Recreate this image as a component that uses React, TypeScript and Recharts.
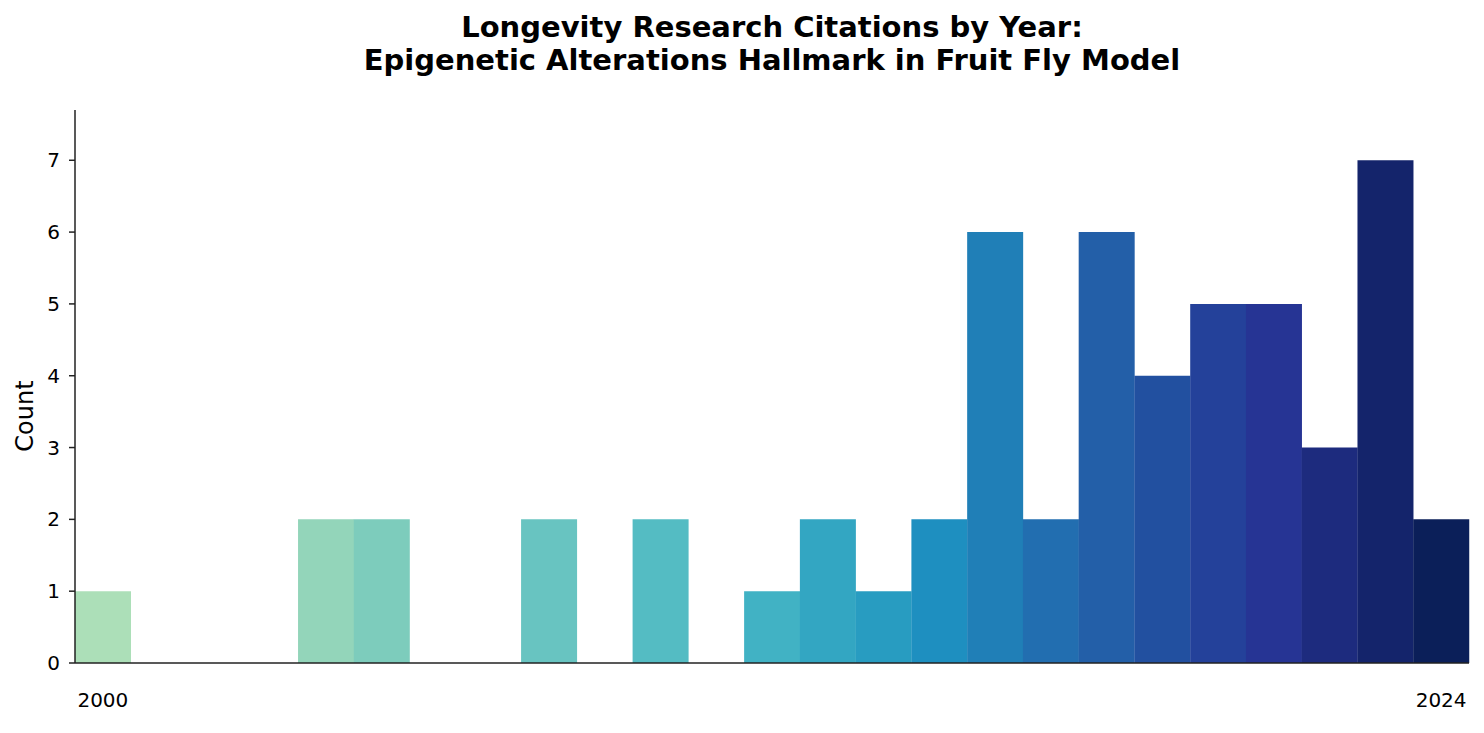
import { Bar, BarChart, Cell, XAxis, YAxis } from "recharts";

const years = [
  2000, 2001, 2002, 2003, 2004, 2005, 2006, 2007, 2008, 2009, 2010, 2011, 2012,
  2013, 2014, 2015, 2016, 2017, 2018, 2019, 2020, 2021, 2022, 2023, 2024,
];
const counts = [1, 0, 0, 0, 2, 2, 0, 0, 2, 0, 2, 0, 1, 2, 1, 2, 6, 2, 6, 4, 5, 5, 3, 7, 2];
const colors = [
  "#acdfb8", "#a5dcb8", "#9ed9b9", "#98d7ba", "#93d5ba", "#7dccbc", "#76c9be", "#6fc6bf",
  "#68c4c1", "#5ec0c2", "#54bcc3", "#4ab7c4", "#41b2c4", "#33a6c2", "#289cc1", "#1e8fc0",
  "#207fb7", "#226eb0", "#235fa8", "#2250a0", "#24419a", "#263494", "#1d2b7e", "#14246b",
  "#0b1f59",
];
const yTicks = [0, 1, 2, 3, 4, 5, 6, 7];

const data = years.map((year, i) => ({ year, count: counts[i] }));

const font = "'DejaVu Sans', sans-serif";

export default function App() {
  return (
    <div style={{ position: "absolute", left: 0, top: 0, width: 1484, height: 733, background: "#fff", fontFamily: font }}>
      <div
        style={{
          position: "absolute",
          top: 11,
          left: 0,
          width: 1544,
          textAlign: "center",
          fontWeight: "bold",
          fontSize: 29,
          lineHeight: "33px",
          color: "#000",
        }}
      >
        Longevity Research Citations by Year:
        <br />
        Epigenetic Alterations Hallmark in Fruit Fly Model
      </div>
      <div
        style={{
          position: "absolute",
          left: 25,
          top: 416,
          transform: "translate(-50%, -50%) rotate(-90deg)",
          fontSize: 24,
          color: "#000",
          whiteSpace: "nowrap",
          zIndex: 1,
        }}
      >
        Count
      </div>
      <BarChart
        width={1484}
        height={733}
        data={data}
        margin={{ top: 110, right: 15, bottom: 0, left: 0 }}
        barCategoryGap={0}
        barGap={0}
      >
        <XAxis
          dataKey="year"
          interval={0}
          tickLine={false}
          tickMargin={24}
          height={70}
          stroke="#222"
          strokeWidth={1.5}
          tick={{ fill: "#000", fontSize: 20, fontFamily: font }}
          tickFormatter={(v: number) => (v === 2000 || v === 2024 ? String(v) : "")}
        />
        <YAxis
          width={75}
          domain={[0, 7.7]}
          ticks={yTicks}
          allowDataOverflow
          stroke="#222"
          strokeWidth={1.5}
          tickSize={6}
          tickMargin={9}
          tick={{ fill: "#000", fontSize: 20, fontFamily: font }}
        />
        <Bar dataKey="count" isAnimationActive={false}>
          {data.map((d, i) => (
            <Cell key={d.year} fill={colors[i]} />
          ))}
        </Bar>
      </BarChart>
    </div>
  );
}
